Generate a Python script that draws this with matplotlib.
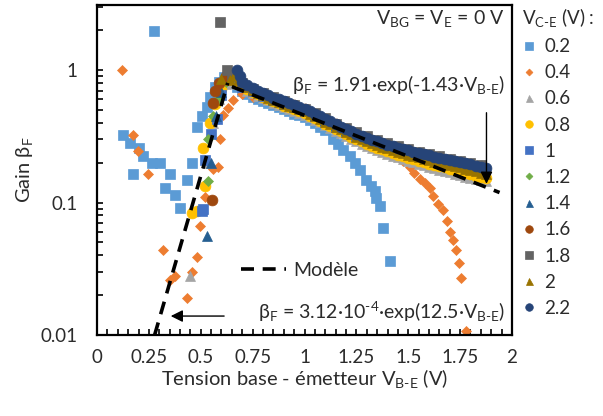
import matplotlib
matplotlib.use("Agg")
import matplotlib.pyplot as plt
from matplotlib.ticker import FixedLocator, MultipleLocator, LogLocator, NullFormatter

plt.rcParams['font.family'] = ['Lato', 'DejaVu Sans']
plt.rcParams['mathtext.fontset'] = 'custom'
plt.rcParams['mathtext.rm'] = 'Lato'
plt.rcParams['mathtext.it'] = 'Lato:italic'
plt.rcParams['mathtext.bf'] = 'Lato:bold'

# ---- data ----
vce_labels = ['0.2', '0.4', '0.6', '0.8', '1', '1.2', '1.4', '1.6', '1.8', '2', '2.2']
colors = ['#5B9BD5', '#ED7D31', '#A5A5A5', '#FFC000', '#4472C4', '#70AD47',
          '#255E91', '#9E480E', '#636363', '#997300', '#264478']
markers = ['s', 'D', '^', 'o', 's', 'D', '^', 'o', 's', '^', 'o']

# common V_BE grids for the overlapping band
v_band = [0.70, 0.725, 0.75, 0.775, 0.80, 0.825, 0.85, 0.875, 0.90, 0.925,
          0.95, 0.975, 1.00, 1.025, 1.05, 1.075, 1.10, 1.125, 1.15, 1.175,
          1.20, 1.225, 1.25, 1.275, 1.30, 1.325, 1.35, 1.375, 1.40, 1.425,
          1.45, 1.475, 1.50, 1.525, 1.55, 1.575, 1.60, 1.625, 1.65, 1.675,
          1.70, 1.725, 1.75, 1.775, 1.80, 1.825, 1.85, 1.875]
v_band_c = [0.70, 0.75, 0.80, 0.85, 0.90, 0.95, 1.00, 1.05, 1.10, 1.15,
            1.20, 1.25, 1.30, 1.35, 1.40, 1.45, 1.50, 1.55, 1.60, 1.65,
            1.70, 1.75, 1.80, 1.85]

# VCE = 0.2
v_02 = [0.124, 0.159, 0.175, 0.204, 0.223, 0.263, 0.274, 0.303, 0.327, 0.351,
        0.375, 0.40, 0.432, 0.456, 0.48, 0.504, 0.528, 0.544, 0.568, 0.59,
        0.61, 0.63, 0.65, 0.675, 0.70, 0.725, 0.75, 0.775, 0.80, 0.825,
        0.85, 0.875, 0.90, 0.925, 0.95, 0.975, 1.00, 1.025, 1.05, 1.075,
        1.10, 1.136, 1.16, 1.184, 1.218, 1.242, 1.266, 1.298, 1.322, 1.338,
        1.346, 1.362, 1.378, 1.41]
b_02 = [0.325, 0.281, 0.163, 0.258, 0.223, 0.199, 1.96, 0.199, 0.129, 0.163,
        0.115, 0.091, 0.149, 0.199, 0.375, 0.45, 0.53, 0.63, 0.75, 0.82,
        0.88, 0.90, 0.83, 0.74, 0.69, 0.66, 0.63, 0.61, 0.585, 0.565,
        0.545, 0.525, 0.505, 0.49, 0.47, 0.455, 0.44, 0.42, 0.40, 0.375,
        0.35, 0.30, 0.275, 0.25, 0.223, 0.20, 0.177, 0.149, 0.133, 0.122,
        0.108, 0.094, 0.064, 0.036]

# VCE = 0.4
v_04_rise = [0.122, 0.175, 0.199, 0.247, 0.319, 0.351, 0.375, 0.432, 0.456, 0.48,
             0.496, 0.52, 0.56, 0.584, 0.592, 0.607, 0.63, 0.656]
b_04_rise = [1.0, 0.325, 0.243, 0.163, 0.044, 0.026, 0.028, 0.019, 0.030, 0.039,
             0.066, 0.111, 0.18, 0.187, 0.30, 0.46, 0.52, 0.595]
b_04_band = [0.66, 0.63, 0.60, 0.565, 0.535, 0.505, 0.475, 0.44, 0.405, 0.37,
             0.337, 0.308, 0.283, 0.262, 0.243]
v_04_tail = [1.425, 1.45, 1.475, 1.507, 1.53, 1.555, 1.58, 1.603, 1.62, 1.643,
             1.667, 1.685, 1.699, 1.715, 1.731, 1.745, 1.755, 1.779]
b_04_tail = [0.232, 0.22, 0.205, 0.186, 0.168, 0.151, 0.14, 0.128, 0.113, 0.098,
             0.088, 0.073, 0.06, 0.052, 0.044, 0.035, 0.027, 0.0108]

# rising part for VCE >= 0.6
v_06_rise = [0.448, 0.53, 0.56, 0.59, 0.62, 0.65, 0.675]
b_06_rise = [0.028, 0.20, 0.40, 0.60, 0.78, 0.82, 0.78]
v_08_rise = [0.456, 0.48, 0.512, 0.52, 0.544, 0.57, 0.60, 0.625, 0.65, 0.675]
b_08_rise = [0.084, 0.086, 0.258, 0.133, 0.40, 0.55, 0.72, 0.85, 0.86, 0.80]
v_10_rise = [0.504, 0.512, 0.52, 0.55, 0.576, 0.60, 0.63, 0.655]
b_10_rise = [0.086, 0.089, 0.21, 0.33, 0.43, 0.65, 0.85, 0.88]
v_12_rise = [0.536, 0.536, 0.56, 0.59, 0.62, 0.65]
b_12_rise = [0.145, 0.30, 0.45, 0.62, 0.82, 0.90]
v_14_rise = [0.528, 0.55, 0.575, 0.60, 0.63, 0.655]
b_14_rise = [0.056, 0.20, 0.45, 0.68, 0.88, 0.92]
v_16_rise = [0.552, 0.56, 0.568, 0.59, 0.62, 0.65]
b_16_rise = [0.105, 0.56, 0.69, 0.80, 0.90, 0.93]
v_18_rise = [0.592, 0.626, 0.65]
b_18_rise = [2.3, 1.0, 0.92]
v_20_rise = [0.60, 0.64, 0.66, 0.68]
b_20_rise = [0.85, 0.84, 0.90, 0.84]
v_22_rise = [0.674, 0.687]
b_22_rise = [1.0, 0.90]

# band values
b_06_band = [0.74, 0.70, 0.67, 0.64, 0.615, 0.59, 0.568, 0.548, 0.528, 0.51,
             0.494, 0.478, 0.46, 0.441, 0.422, 0.403, 0.384, 0.366, 0.349, 0.333,
             0.318, 0.304, 0.291, 0.279, 0.268, 0.258, 0.249, 0.241, 0.233, 0.226,
             0.219, 0.213, 0.207, 0.201, 0.196, 0.191, 0.186, 0.181, 0.177, 0.173,
             0.169, 0.165, 0.161, 0.157, 0.154, 0.151, 0.148, 0.145]
b_08_band = [0.76, 0.72, 0.685, 0.655, 0.628, 0.603, 0.58, 0.56, 0.54, 0.522,
             0.506, 0.49, 0.472, 0.453, 0.434, 0.414, 0.395, 0.377, 0.36, 0.344,
             0.329, 0.315, 0.302, 0.29, 0.279, 0.269, 0.26, 0.252, 0.244, 0.237,
             0.23, 0.224, 0.218, 0.212, 0.207, 0.202, 0.197, 0.192, 0.188, 0.184,
             0.18, 0.176, 0.172, 0.168, 0.164, 0.16, 0.157, 0.154]
b_10_band = [0.75, 0.69, 0.635, 0.59, 0.555, 0.525, 0.49, 0.45, 0.41, 0.375,
             0.345, 0.32, 0.298, 0.28, 0.264, 0.25, 0.237, 0.226, 0.216, 0.207,
             0.199, 0.191, 0.184, 0.177]
b_12_band = [0.77, 0.70, 0.645, 0.60, 0.562, 0.53, 0.495, 0.455, 0.415, 0.38,
             0.35, 0.325, 0.303, 0.284, 0.268, 0.254, 0.241, 0.23, 0.22, 0.211,
             0.203, 0.195, 0.188, 0.181]
b_14_band = [0.78, 0.71, 0.655, 0.61, 0.57, 0.537, 0.502, 0.462, 0.422, 0.386,
             0.355, 0.33, 0.308, 0.289, 0.272, 0.258, 0.245, 0.234, 0.224, 0.215,
             0.207, 0.199, 0.192, 0.185]
b_16_band = [0.79, 0.72, 0.662, 0.617, 0.577, 0.543, 0.508, 0.468, 0.428, 0.391,
             0.36, 0.334, 0.312, 0.293, 0.276, 0.262, 0.249, 0.238, 0.228, 0.219,
             0.211, 0.203, 0.196, 0.189]
b_18_band = [0.80, 0.725, 0.668, 0.622, 0.582, 0.548, 0.512, 0.472, 0.432, 0.395,
             0.364, 0.338, 0.316, 0.297, 0.28, 0.266, 0.253, 0.242, 0.232, 0.223,
             0.215, 0.207, 0.20, 0.193]
b_20_band = [0.79, 0.745, 0.705, 0.675, 0.645, 0.62, 0.597, 0.577, 0.557, 0.538,
             0.522, 0.507, 0.488, 0.468, 0.448, 0.428, 0.408, 0.39, 0.372, 0.356,
             0.341, 0.327, 0.314, 0.302, 0.291, 0.281, 0.272, 0.264, 0.256, 0.249,
             0.242, 0.236, 0.23, 0.224, 0.219, 0.214, 0.209, 0.204, 0.20, 0.196,
             0.192, 0.188, 0.184, 0.18, 0.176, 0.172, 0.168, 0.164]
b_22_band = [0.82, 0.77, 0.73, 0.70, 0.67, 0.645, 0.62, 0.60, 0.58, 0.56,
             0.545, 0.53, 0.51, 0.49, 0.47, 0.45, 0.43, 0.41, 0.392, 0.375,
             0.36, 0.345, 0.332, 0.32, 0.308, 0.298, 0.289, 0.281, 0.274, 0.267,
             0.26, 0.254, 0.248, 0.242, 0.237, 0.232, 0.227, 0.222, 0.218, 0.214,
             0.21, 0.206, 0.202, 0.198, 0.194, 0.19, 0.186, 0.182]

# model end points (straight lines on the log axis)
model_low_v = [0.2777, 0.63]
model_low_b = [0.01, 0.80]
model_high_v = [0.65, 1.94]
model_high_b = [0.75, 0.119]

xticks = [0, 0.25, 0.5, 0.75, 1, 1.25, 1.5, 1.75, 2]
xtick_labels = ['0', '0.25', '0.5', '0.75', '1', '1.25', '1.5', '1.75', '2']
yticks = [0.01, 0.1, 1]
ytick_labels = ['0.01', '0.1', '1']

series = [
    (v_02, b_02),
    (v_04_rise + v_band_c[:15] + v_04_tail, b_04_rise + b_04_band + b_04_tail),
    (v_06_rise + v_band, b_06_rise + b_06_band),
    (v_08_rise + v_band, b_08_rise + b_08_band),
    (v_10_rise + v_band_c, b_10_rise + b_10_band),
    (v_12_rise + v_band_c, b_12_rise + b_12_band),
    (v_14_rise + v_band_c, b_14_rise + b_14_band),
    (v_16_rise + v_band_c, b_16_rise + b_16_band),
    (v_18_rise + v_band_c, b_18_rise + b_18_band),
    (v_20_rise + v_band, b_20_rise + b_20_band),
    (v_22_rise + v_band, b_22_rise + b_22_band),
]
msizes = {'s': 7.4, 'D': 5.0, '^': 7.2, 'o': 7.8}
text_c = '#2b2b2b'

# ---- figure ----
fig = plt.figure(figsize=(6.03, 4.16), dpi=100)
ax = fig.add_axes([97 / 603, 1 - 335 / 416, 415 / 603, 330 / 416])

handles = []
for (v, b), c, m, lab in zip(series, colors, markers, vce_labels):
    h, = ax.plot(v, b, linestyle='none', marker=m, ms=msizes[m],
                 color=c, mec=c, mew=0.5, label=lab)
    handles.append(h)

ax.plot(model_low_v, model_low_b, color='black', lw=2.6, dashes=(3.6, 2.4), zorder=5)
model_line, = ax.plot(model_high_v, model_high_b, color='black', lw=2.6,
                      dashes=(3.6, 2.4), zorder=5)

ax.set_yscale('log')
ax.set_xlim(0, 2)
ax.set_ylim(0.01, 3.1)

ax.xaxis.set_major_locator(FixedLocator(xticks))
ax.set_xticklabels(xtick_labels)
ax.xaxis.set_minor_locator(MultipleLocator(0.05))
ax.yaxis.set_major_locator(FixedLocator(yticks))
ax.set_yticklabels(ytick_labels)
ax.yaxis.set_minor_locator(LogLocator(base=10, subs=range(2, 10)))
ax.yaxis.set_minor_formatter(NullFormatter())

ax.tick_params(which='both', direction='in', length=4, width=1.2, color='black',
               labelsize=13.5, labelcolor=text_c)
ax.tick_params(axis='x', which='major', pad=10)
ax.tick_params(axis='y', which='major', pad=14)
for s in ax.spines.values():
    s.set_linewidth(1.6)
    s.set_color('black')

ax.set_xlabel('Tension base - émetteur V$_{\\text{B-E}}$ (V)', fontsize=14.5, color=text_c,
              labelpad=1)
ax.set_ylabel('Gain β$_{\\mathregular{F}}$', fontsize=14.5, color=text_c, labelpad=4)

# annotations
ax.text(0.983, 0.958, 'V$_{\\mathregular{BG}}$ = V$_{\\mathregular{E}}$ = 0 V',
        transform=ax.transAxes, ha='right', va='center', fontsize=14, color=text_c)
ax.text(0.983, 0.758, 'β$_{\\mathregular{F}}$ = 1.91·exp(-1.43·V$_{\\text{B-E}}$)',
        transform=ax.transAxes, ha='right', va='center', fontsize=14, color=text_c)
ax.text(0.983, 0.07, 'β$_{\\mathregular{F}}$ = 3.12·10$^{\\text{-4}}$·exp(12.5·V$_{\\text{B-E}}$)',
        transform=ax.transAxes, ha='right', va='center', fontsize=14, color=text_c)

ax.annotate('', xy=(1.877, 0.132), xytext=(1.877, 0.50),
            arrowprops=dict(arrowstyle='-|>', color='black', lw=1, mutation_scale=18))
ax.annotate('', xy=(0.342, 0.0139), xytext=(0.626, 0.0139),
            arrowprops=dict(arrowstyle='-|>', color='black', lw=1, mutation_scale=18))

# legends
leg2 = ax.legend([model_line], ['Modèle'], loc='center left',
                 bbox_to_anchor=(0.305, 0.195), frameon=False, fontsize=14,
                 handlelength=2.3, handletextpad=0.4, labelcolor=text_c)
ax.add_artist(leg2)

leg = ax.legend(handles=handles, loc='upper left', bbox_to_anchor=(1.005, 1.02),
                frameon=False, fontsize=13.5, markerscale=0.7, handlelength=0.8,
                handletextpad=0.4, labelspacing=0.49, borderaxespad=0,
                title='V$_{\\text{C-E}}$ (V) :', title_fontsize=13.5, alignment='left',
                labelcolor=text_c)
leg.get_title().set_color(text_c)

fig.savefig('out.png', dpi=100)
